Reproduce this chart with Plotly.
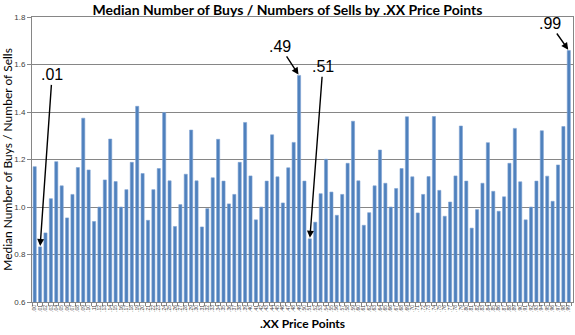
import plotly.graph_objects as go

# Price endings .00 - .99
price_points = [f".{i:02d}" for i in range(100)]

# Median buys / sells ratio per price ending
ratios = [
    1.170, 0.832, 0.891, 1.035, 1.191, 1.089, 0.954, 1.053, 1.166, 1.374,
    1.156, 0.939, 1.000, 1.114, 1.286, 1.107, 1.000, 1.073, 1.188, 1.424,
    1.141, 0.944, 1.073, 1.162, 1.398, 1.110, 0.918, 1.010, 1.138, 1.324,
    1.110, 0.916, 0.993, 1.123, 1.285, 1.109, 1.013, 1.053, 1.188, 1.356,
    1.131, 0.946, 1.000, 1.109, 1.304, 1.127, 1.017, 1.165, 1.272, 1.554,
    1.109, 0.866, 0.936, 1.056, 1.201, 1.063, 0.965, 1.053, 1.184, 1.361,
    1.110, 0.923, 0.976, 1.089, 1.240, 1.100, 1.000, 1.078, 1.162, 1.380,
    1.127, 0.975, 1.053, 1.128, 1.381, 1.070, 0.961, 1.021, 1.131, 1.341,
    1.109, 0.911, 0.989, 1.100, 1.271, 1.066, 0.982, 1.043, 1.184, 1.331,
    1.106, 0.946, 1.000, 1.109, 1.321, 1.130, 1.024, 1.177, 1.339, 1.659,
]

# Highlighted price endings and label offsets (px) from the bar top
callouts = [(".01", 12, -172), (".49", -19, -29), (".51", 13, -172), (".99", -19, -27)]

y_ticks = [0.6, 0.8, 1.0, 1.2, 1.4, 1.6, 1.8]

fig = go.Figure(
    go.Bar(
        x=price_points,
        y=ratios,
        marker=dict(color="#4F81BD", line=dict(color="#7FA3D3", width=0.6)),
    )
)

annotations = []
for label, ax, ay in callouts:
    idx = price_points.index(label)
    annotations.append(
        dict(
            x=idx, y=ratios[idx], xref="x", yref="y",
            text=label, showarrow=True, ax=ax, ay=ay,
            arrowhead=2, arrowsize=1, arrowwidth=1.4, arrowcolor="black",
            standoff=1,
            font=dict(family="Liberation Sans", size=16, color="black"),
        )
    )

fig.update_layout(
    width=575, height=335,
    margin=dict(l=32, r=2, t=17, b=33),
    paper_bgcolor="white", plot_bgcolor="white",
    bargap=0.42,
    showlegend=False,
    title=dict(
        text="<b>Median Number of Buys / Numbers of Sells by .XX Price Points</b>",
        x=0.5, xanchor="center", y=0.985, yanchor="top",
        font=dict(family="Lato", size=14, color="black"),
    ),
    annotations=annotations,
    font=dict(family="Liberation Sans"),
)

fig.update_xaxes(
    type="category",
    automargin=False,
    tickmode="array", tickvals=price_points, ticktext=price_points,
    tickangle=-90,
    tickfont=dict(size=5, color="#404040"),
    ticks="outside", ticklen=3, tickcolor="#868686", tickson="boundaries",
    showline=True, linecolor="#868686", linewidth=1, mirror=True,
    title=dict(text="<b>.XX Price Points</b>", font=dict(family="Lato", size=12, color="black"), standoff=8),
)
fig.update_yaxes(
    automargin=False,
    range=[0.6, 1.8],
    tickvals=y_ticks,
    ticktext=[f"{v:.1f}" for v in y_ticks],
    tickfont=dict(size=8, color="#404040"),
    ticks="outside", ticklen=4, tickcolor="#868686",
    showgrid=True, gridcolor="#868686", gridwidth=1,
    showline=True, linecolor="#868686", linewidth=1, mirror=True,
    zeroline=False,
    title=dict(text="Median Number of Buys / Number of Sells", font=dict(family="Lato", size=12, color="black"), standoff=2),
)

fig.write_html("out.html")
